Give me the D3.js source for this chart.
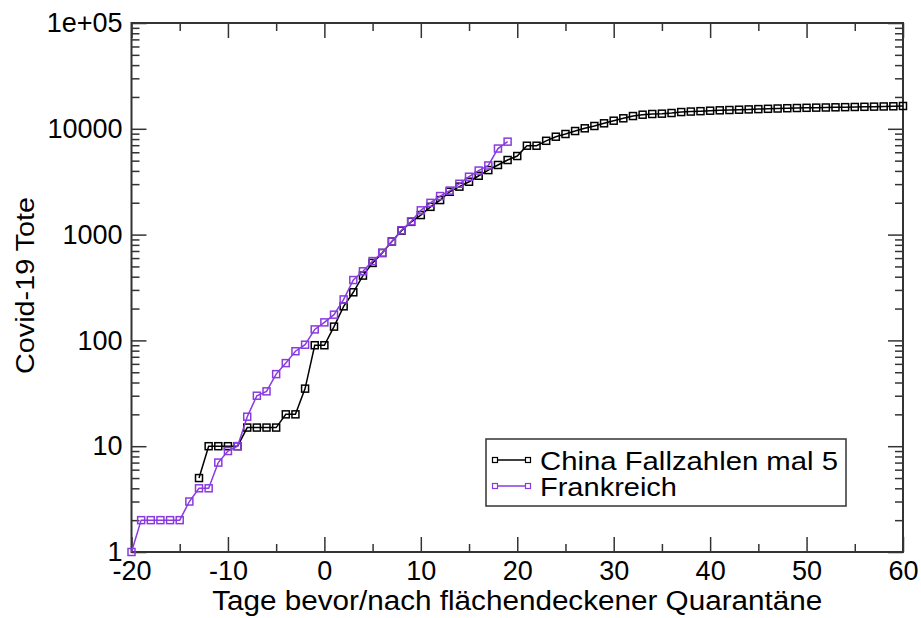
<!DOCTYPE html>
<html>
<head>
<meta charset="utf-8">
<script src="https://cdn.jsdelivr.net/npm/d3@7"></script>
<style>
  html, body { margin: 0; padding: 0; background: #fff; }
  svg { display: block; }
  text { font-family: "Liberation Sans", Arial, Helvetica, sans-serif; fill: #000; }
</style>
</head>
<body>
<svg id="chart" width="921" height="618"></svg>
<script>
// ---------- data ----------
const chinaDays = [-13,-12,-11,-10,-9,-8,-7,-6,-5,-4,-3,-2,-1,0,1,2,3,4,5,6,7,8,9,10,11,12,13,14,15,16,17,18,19,20,21,22,23,24,25,26,27,28,29,30,31,32,33,34,35,36,37,38,39,40,41,42,43,44,45,46,47,48,49,50,51,52,53,54,55,56,57,58,59,60];
const chinaValues = [5,10,10,10,10,15,15,15,15,20,20,35,90,90,135,210,285,410,540,670,860,1090,1320,1530,1830,2120,2540,2840,3160,3600,4070,4550,5070,5530,6920,6920,7700,8420,8930,9530,10110,10630,11270,11930,12570,13200,13590,13800,13900,14100,14400,14550,14680,14830,14950,15050,15150,15250,15350,15450,15550,15650,15720,15790,15850,15900,15960,16020,16080,16140,16200,16260,16320,16430];
const franceDays = [-20,-19,-18,-17,-16,-15,-14,-13,-12,-11,-10,-9,-8,-7,-6,-5,-4,-3,-2,-1,0,1,2,3,4,5,6,7,8,9,10,11,12,13,14,15,16,17,18,19];
const franceValues = [1,2,2,2,2,2,3,4,4,7,9,10,19,30,33,48,61,79,91,127,148,175,244,372,450,562,674,860,1100,1331,1696,1995,2314,2606,3024,3523,4032,4503,6507,7560];
const seriesNames = ["China Fallzahlen mal 5", "Frankreich"];
const seriesColors = ["#000000", "#8a3be0"];
const xMajorTicks = [-20,-10,0,10,20,30,40,50,60];
const xTickLabels = ["-20","-10","0","10","20","30","40","50","60"];
const xMinorTicks = [-15,-5,5,15,25,35,45,55];
const yMajorTicks = [1,10,100,1000,10000,100000];
const yTickLabels = ["1","10","100","1000","10000","1e+05"];
const xTitle = "Tage bevor/nach flächendeckener Quarantäne";
const yTitle = "Covid-19 Tote";

// ---------- layout ----------
const pL = 131.5, pR = 903, pT = 23, pB = 552;
const svg = d3.select("#chart");

const x = d3.scaleLinear().domain([-20, 60]).range([pL, pR]);
const y = d3.scaleLog().domain([1, 100000]).range([pB, pT]);

const yMinorTicks = [];
for (let d = 1; d < 100000; d *= 10) for (let k = 2; k <= 9; k++) yMinorTicks.push(d * k);

const axisColor = "#333";
const majorLen = 15, minorLen = 8;

function styleAxis(g) {
  g.select(".domain").remove();
  g.selectAll(".tick line").attr("stroke", axisColor).attr("stroke-width", 1.5);
}

// bottom
svg.append("g").attr("transform", `translate(0,${pB})`)
  .call(d3.axisBottom(x).tickValues(xMajorTicks).tickSize(-majorLen).tickPadding(9)
    .tickFormat((d, i) => xTickLabels[i]))
  .call(styleAxis)
  .call(g => g.selectAll("text").attr("font-size", 27).attr("fill", "#000"));
svg.append("g").attr("transform", `translate(0,${pB})`)
  .call(d3.axisBottom(x).tickValues(xMinorTicks).tickSize(-minorLen).tickFormat(""))
  .call(styleAxis);
// top
svg.append("g").attr("transform", `translate(0,${pT})`)
  .call(d3.axisTop(x).tickValues(xMajorTicks).tickSize(-majorLen).tickFormat(""))
  .call(styleAxis);
svg.append("g").attr("transform", `translate(0,${pT})`)
  .call(d3.axisTop(x).tickValues(xMinorTicks).tickSize(-minorLen).tickFormat(""))
  .call(styleAxis);
// left
svg.append("g").attr("transform", `translate(${pL},0)`)
  .call(d3.axisLeft(y).tickValues(yMajorTicks).tickSize(-majorLen).tickPadding(9)
    .tickFormat((d, i) => yTickLabels[i]))
  .call(styleAxis)
  .call(g => g.selectAll("text").attr("font-size", 27).attr("fill", "#000"));
svg.append("g").attr("transform", `translate(${pL},0)`)
  .call(d3.axisLeft(y).tickValues(yMinorTicks).tickSize(-minorLen).tickFormat(""))
  .call(styleAxis);
// right
svg.append("g").attr("transform", `translate(${pR},0)`)
  .call(d3.axisRight(y).tickValues(yMajorTicks).tickSize(-majorLen).tickFormat(""))
  .call(styleAxis);
svg.append("g").attr("transform", `translate(${pR},0)`)
  .call(d3.axisRight(y).tickValues(yMinorTicks).tickSize(-minorLen).tickFormat(""))
  .call(styleAxis);

// frame
svg.append("rect").attr("x", pL).attr("y", pT)
  .attr("width", pR - pL).attr("height", pB - pT)
  .attr("fill", "none").attr("stroke", axisColor).attr("stroke-width", 2);

// titles
svg.append("text").attr("x", (pL + pR) / 2).attr("y", 610)
  .attr("text-anchor", "middle").attr("font-size", 27)
  .attr("textLength", 610).attr("lengthAdjust", "spacingAndGlyphs").text(xTitle);
svg.append("text").attr("transform", `translate(34,285.5) rotate(-90)`)
  .attr("text-anchor", "middle").attr("font-size", 26)
  .attr("textLength", 177).attr("lengthAdjust", "spacingAndGlyphs").text(yTitle);

// ---------- series ----------
const series = [
  { days: chinaDays, values: chinaValues, color: seriesColors[0] },
  { days: franceDays, values: franceValues, color: seriesColors[1] }
];
const line = d3.line().x(d => x(d[0])).y(d => y(d[1]));
const ms = 7;
series.forEach(s => {
  const pts = s.days.map((d, i) => [d, s.values[i]]);
  svg.append("path").datum(pts).attr("d", line)
    .attr("fill", "none").attr("stroke", s.color).attr("stroke-width", 1.5);
  svg.append("g").selectAll("rect").data(pts).join("rect")
    .attr("x", d => x(d[0]) - ms / 2).attr("y", d => y(d[1]) - ms / 2)
    .attr("width", ms).attr("height", ms)
    .attr("fill", "none").attr("stroke", s.color).attr("stroke-width", 1.5);
});

// ---------- legend ----------
const lg = svg.append("g");
lg.append("rect").attr("x", 486).attr("y", 439).attr("width", 360).attr("height", 67)
  .attr("fill", "#fff").attr("stroke", axisColor).attr("stroke-width", 1.5);
const legendWidths = [298, 137];
seriesNames.forEach((name, i) => {
  const cy = 460 + i * 26;
  lg.append("line").attr("x1", 495).attr("x2", 528).attr("y1", cy).attr("y2", cy)
    .attr("stroke", seriesColors[i]).attr("stroke-width", 1.5);
  [495, 528].forEach(px => lg.append("rect").attr("x", px - 2.5).attr("y", cy - 2.5)
    .attr("width", 5).attr("height", 5).attr("fill", "#fff")
    .attr("stroke", seriesColors[i]).attr("stroke-width", 1.2));
  lg.append("text").attr("x", 540).attr("y", cy + 10).attr("font-size", 26)
    .attr("textLength", legendWidths[i]).attr("lengthAdjust", "spacingAndGlyphs").text(name);
});
</script>
</body>
</html>
